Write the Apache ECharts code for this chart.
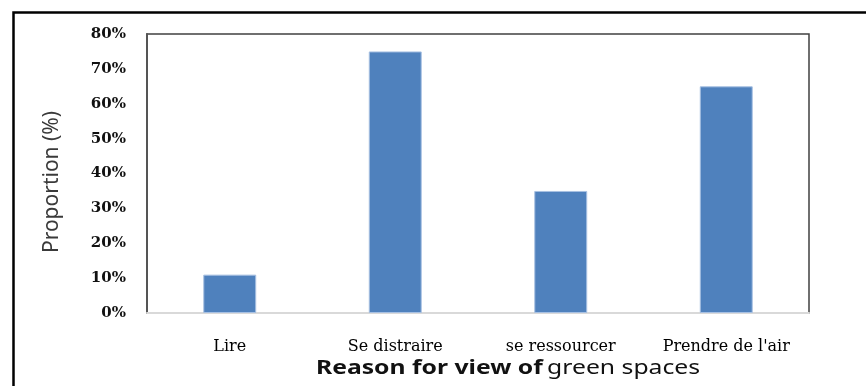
<!DOCTYPE html>
<html><head><meta charset="utf-8">
<script src="https://cdn.jsdelivr.net/npm/echarts@6/dist/echarts.min.js"></script>
<style>html,body{margin:0;padding:0;background:#fff}#c{width:866px;height:386px}</style>
</head><body><div id="c"></div>
<script>
const categories = ["Lire", "Se distraire", "se ressourcer", "Prendre de l'air"];
const values = [11, 75, 35, 65];
const yTicks = [0, 10, 20, 30, 40, 50, 60, 70, 80];

const chart = echarts.init(document.getElementById('c'), null, {renderer: 'canvas'});
chart.setOption({
  animation: false,
  backgroundColor: '#fff',
  grid: {left: 147, top: 34, right: 57, bottom: 73, show: true, borderColor: '#404040', borderWidth: 1.5, backgroundColor: 'transparent'},
  xAxis: {
    type: 'category', data: categories,
    axisLine: {show: true, lineStyle: {color: '#d9d9d9', width: 2}},
    axisTick: {show: false},
    axisLabel: {fontFamily: 'DejaVu Serif', fontSize: 16, color: '#000', margin: 26, interval: 0}
  },
  yAxis: {
    type: 'value', min: yTicks[0], max: yTicks[yTicks.length - 1], interval: 10,
    splitLine: {show: false},
    axisLine: {show: true, lineStyle: {color: '#555', width: 2}},
    axisTick: {show: false},
    axisLabel: {formatter: '{value}%', fontFamily: 'DejaVu Serif', fontWeight: 'bold', fontSize: 15, color: '#111', margin: 21}
  },
  series: [{
    type: 'bar', data: values, barWidth: '32%',
    itemStyle: {color: '#4f81bd', borderColor: '#a7c0e2', borderWidth: 1}
  }],
  graphic: [
    {type: 'rect', left: 11, top: 10, shape: {width: 900, height: 420}, style: {fill: 'none', stroke: '#000', lineWidth: 2.5}, z: 100},
    {type: 'text', x: 52, y: 182, rotation: Math.PI / 2, style: {text: 'Proportion (%)', font: '21px "Noto Sans"', fill: '#3a3a3a', textAlign: 'center', textVerticalAlign: 'middle'}},
    {type: 'text', x: 508, y: 369, scaleX: 1.3, style: {
      text: '{b|Reason for view of} {n|green spaces}', textAlign: 'center', textVerticalAlign: 'middle',
      rich: {b: {fontFamily: 'Noto Sans', fontSize: 19, fontWeight: 'bold', fill: '#111'}, n: {fontFamily: 'Noto Sans', fontSize: 19, fill: '#111'}}
    }}
  ]
});
</script></body></html>
